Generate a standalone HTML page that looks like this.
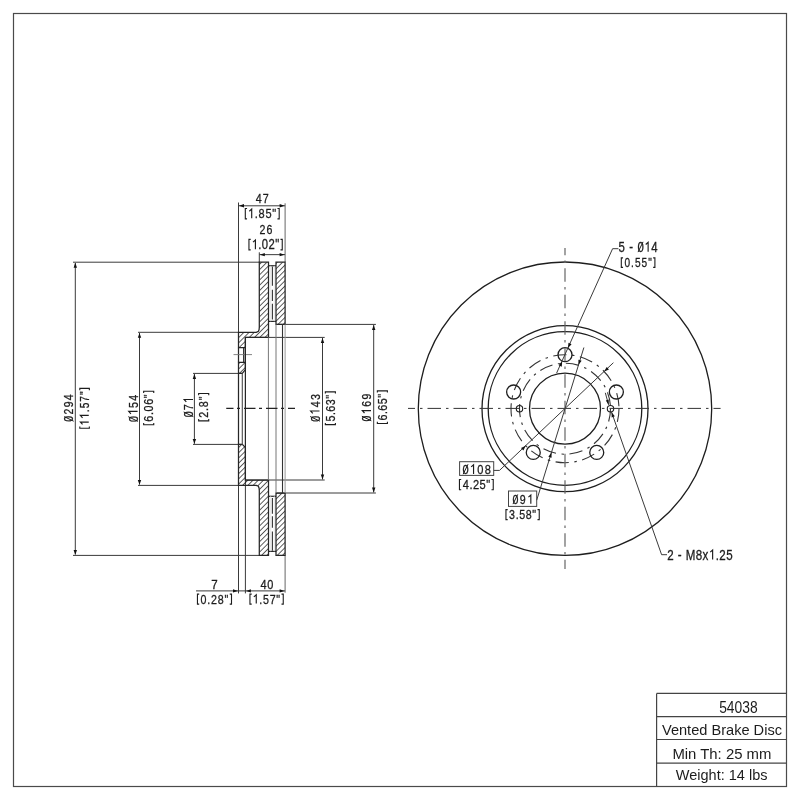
<!DOCTYPE html>
<html><head><meta charset="utf-8"><style>
html,body{margin:0;padding:0;background:#fff;}
svg{display:block;filter:grayscale(100%);}
text{opacity:0.999;}
text{font-family:"Liberation Sans",sans-serif;}
</style></head><body>
<svg width="800" height="800" viewBox="0 0 800 800">
<rect width="800" height="800" fill="#fff"/>
<rect x="13.5" y="13.5" width="773" height="773" fill="none" stroke="#4a4a4a" stroke-width="1.2"/>
<line x1="656.60" y1="693.40" x2="786.50" y2="693.40" stroke="#444" stroke-width="1.2" />
<line x1="656.60" y1="716.60" x2="786.50" y2="716.60" stroke="#444" stroke-width="1.2" />
<line x1="656.60" y1="739.50" x2="786.50" y2="739.50" stroke="#444" stroke-width="1.2" />
<line x1="656.60" y1="763.20" x2="786.50" y2="763.20" stroke="#444" stroke-width="1.2" />
<line x1="656.60" y1="693.40" x2="656.60" y2="786.50" stroke="#444" stroke-width="1.2" />
<g transform="translate(719.70,712.80)"><text x="-0.55" y="0" font-size="15.70" textLength="38.45" lengthAdjust="spacingAndGlyphs" fill="#1c1c1c">54038</text></g>
<g transform="translate(662.00,735.40)"><text x="-0.06" y="0" font-size="15.41" textLength="120.05" lengthAdjust="spacingAndGlyphs" fill="#1c1c1c">Vented Brake Disc</text></g>
<g transform="translate(673.60,758.80)"><text x="-1.22" y="0" font-size="15.55" textLength="99.00" lengthAdjust="spacingAndGlyphs" fill="#1c1c1c">Min Th: 25 mm</text></g>
<g transform="translate(675.90,780.40)"><text x="-0.06" y="0" font-size="15.26" textLength="91.59" lengthAdjust="spacingAndGlyphs" fill="#1c1c1c">Weight: 14 lbs</text></g>
<line x1="73.00" y1="262.20" x2="259.30" y2="262.20" stroke="#3a3a3a" stroke-width="1.0" />
<line x1="73.00" y1="555.40" x2="259.30" y2="555.40" stroke="#3a3a3a" stroke-width="1.0" />
<line x1="75.30" y1="263.00" x2="75.30" y2="554.60" stroke="#3a3a3a" stroke-width="1.0" />
<polygon points="75.30,262.80 77.00,267.70 73.60,267.70" fill="#111"/>
<polygon points="75.30,554.80 73.60,549.90 77.00,549.90" fill="#111"/>
<g transform="translate(73.30,421.40) rotate(-90)"><text transform="translate(-0.41,0) scale(0.820,1)" font-size="12.79" fill="#1c1c1c" stroke="#1c1c1c" stroke-width="0.3">0</text><line x1="0.20" y1="0.35" x2="4.81" y2="-9.15" stroke="#1c1c1c" stroke-width="1.0"/><text transform="translate(6.82,0) scale(0.820,1)" font-size="12.79" fill="#1c1c1c" stroke="#1c1c1c" stroke-width="0.3">2</text><text transform="translate(14.05,0) scale(0.820,1)" font-size="12.79" fill="#1c1c1c" stroke="#1c1c1c" stroke-width="0.3">9</text><text transform="translate(21.27,0) scale(0.820,1)" font-size="12.79" fill="#1c1c1c" stroke="#1c1c1c" stroke-width="0.3">4</text></g>
<g transform="translate(88.75,428.80) rotate(-90)"><path d="M2.30,-8.95H0.55V0.6H2.30M38.65,-8.95H40.40V0.6H38.65" fill="none" stroke="#1c1c1c" stroke-width="1.1"/><path d="M6.72,0V-8.35L4.32,-6.20" fill="none" stroke="#1c1c1c" stroke-width="1.15" stroke-linejoin="miter"/><path d="M13.35,0V-8.35L10.95,-6.20" fill="none" stroke="#1c1c1c" stroke-width="1.15" stroke-linejoin="miter"/><text transform="translate(16.62,0) scale(0.820,1)" font-size="12.35" fill="#1c1c1c" stroke="#1c1c1c" stroke-width="0.3">.</text><text transform="translate(20.43,0) scale(0.820,1)" font-size="12.35" fill="#1c1c1c" stroke="#1c1c1c" stroke-width="0.3">5</text><text transform="translate(27.05,0) scale(0.820,1)" font-size="12.35" fill="#1c1c1c" stroke="#1c1c1c" stroke-width="0.3">7</text><text transform="translate(33.68,0) scale(0.820,1)" font-size="12.35" fill="#1c1c1c" stroke="#1c1c1c" stroke-width="0.3">&quot;</text></g>
<line x1="138.00" y1="332.30" x2="238.50" y2="332.30" stroke="#3a3a3a" stroke-width="1.0" />
<line x1="138.00" y1="485.40" x2="238.50" y2="485.40" stroke="#3a3a3a" stroke-width="1.0" />
<line x1="139.50" y1="333.00" x2="139.50" y2="484.60" stroke="#3a3a3a" stroke-width="1.0" />
<polygon points="139.50,332.90 141.20,337.80 137.80,337.80" fill="#111"/>
<polygon points="139.50,484.80 137.80,479.90 141.20,479.90" fill="#111"/>
<g transform="translate(137.60,421.60) rotate(-90)"><text transform="translate(-0.42,0) scale(0.820,1)" font-size="13.08" fill="#1c1c1c" stroke="#1c1c1c" stroke-width="0.3">0</text><line x1="0.21" y1="0.35" x2="4.92" y2="-9.35" stroke="#1c1c1c" stroke-width="1.0"/><path d="M10.20,0V-8.85L7.80,-6.70" fill="none" stroke="#1c1c1c" stroke-width="1.15" stroke-linejoin="miter"/><text transform="translate(13.69,0) scale(0.820,1)" font-size="13.08" fill="#1c1c1c" stroke="#1c1c1c" stroke-width="0.3">5</text><text transform="translate(20.75,0) scale(0.820,1)" font-size="13.08" fill="#1c1c1c" stroke="#1c1c1c" stroke-width="0.3">4</text></g>
<g transform="translate(153.15,425.30) rotate(-90)"><path d="M2.30,-9.50H0.55V0.6H2.30M32.30,-9.50H34.05V0.6H32.30" fill="none" stroke="#1c1c1c" stroke-width="1.1"/><text transform="translate(3.55,0) scale(0.820,1)" font-size="13.15" fill="#1c1c1c" stroke="#1c1c1c" stroke-width="0.3">6</text><text transform="translate(10.20,0) scale(0.820,1)" font-size="13.15" fill="#1c1c1c" stroke="#1c1c1c" stroke-width="0.3">.</text><text transform="translate(13.84,0) scale(0.820,1)" font-size="13.15" fill="#1c1c1c" stroke="#1c1c1c" stroke-width="0.3">0</text><text transform="translate(20.48,0) scale(0.820,1)" font-size="13.15" fill="#1c1c1c" stroke="#1c1c1c" stroke-width="0.3">6</text><text transform="translate(27.13,0) scale(0.820,1)" font-size="13.15" fill="#1c1c1c" stroke="#1c1c1c" stroke-width="0.3">&quot;</text></g>
<line x1="193.00" y1="373.40" x2="242.30" y2="373.40" stroke="#3a3a3a" stroke-width="1.0" />
<line x1="193.00" y1="444.40" x2="242.30" y2="444.40" stroke="#3a3a3a" stroke-width="1.0" />
<line x1="194.40" y1="374.00" x2="194.40" y2="443.80" stroke="#3a3a3a" stroke-width="1.0" />
<polygon points="194.40,374.00 196.10,378.90 192.70,378.90" fill="#111"/>
<polygon points="194.40,443.80 192.70,438.90 196.10,438.90" fill="#111"/>
<g transform="translate(193.00,416.90) rotate(-90)"><text transform="translate(-0.42,0) scale(0.820,1)" font-size="13.08" fill="#1c1c1c" stroke="#1c1c1c" stroke-width="0.3">0</text><line x1="0.21" y1="0.35" x2="4.92" y2="-9.35" stroke="#1c1c1c" stroke-width="1.0"/><text transform="translate(6.72,0) scale(0.820,1)" font-size="13.08" fill="#1c1c1c" stroke="#1c1c1c" stroke-width="0.3">7</text><path d="M17.42,0V-8.85L15.02,-6.70" fill="none" stroke="#1c1c1c" stroke-width="1.15" stroke-linejoin="miter"/></g>
<g transform="translate(208.15,421.40) rotate(-90)"><path d="M2.30,-9.50H0.55V0.6H2.30M26.20,-9.50H27.95V0.6H26.20" fill="none" stroke="#1c1c1c" stroke-width="1.1"/><text transform="translate(3.56,0) scale(0.820,1)" font-size="13.15" fill="#1c1c1c" stroke="#1c1c1c" stroke-width="0.3">2</text><text transform="translate(10.38,0) scale(0.820,1)" font-size="13.15" fill="#1c1c1c" stroke="#1c1c1c" stroke-width="0.3">.</text><text transform="translate(14.20,0) scale(0.820,1)" font-size="13.15" fill="#1c1c1c" stroke="#1c1c1c" stroke-width="0.3">8</text><text transform="translate(21.03,0) scale(0.820,1)" font-size="13.15" fill="#1c1c1c" stroke="#1c1c1c" stroke-width="0.3">&quot;</text></g>
<line x1="245.40" y1="337.40" x2="324.70" y2="337.40" stroke="#3a3a3a" stroke-width="1.0" />
<line x1="245.40" y1="480.00" x2="324.70" y2="480.00" stroke="#3a3a3a" stroke-width="1.0" />
<line x1="322.50" y1="338.00" x2="322.50" y2="479.40" stroke="#3a3a3a" stroke-width="1.0" />
<polygon points="322.50,338.00 324.20,342.90 320.80,342.90" fill="#111"/>
<polygon points="322.50,479.40 320.80,474.50 324.20,474.50" fill="#111"/>
<g transform="translate(319.50,421.40) rotate(-90)"><text transform="translate(-0.42,0) scale(0.820,1)" font-size="13.08" fill="#1c1c1c" stroke="#1c1c1c" stroke-width="0.3">0</text><line x1="0.21" y1="0.35" x2="4.92" y2="-9.35" stroke="#1c1c1c" stroke-width="1.0"/><path d="M10.38,0V-8.85L7.98,-6.70" fill="none" stroke="#1c1c1c" stroke-width="1.15" stroke-linejoin="miter"/><text transform="translate(14.06,0) scale(0.820,1)" font-size="13.08" fill="#1c1c1c" stroke="#1c1c1c" stroke-width="0.3">4</text><text transform="translate(21.31,0) scale(0.820,1)" font-size="13.08" fill="#1c1c1c" stroke="#1c1c1c" stroke-width="0.3">3</text></g>
<g transform="translate(334.80,425.20) rotate(-90)"><path d="M2.30,-9.45H0.55V0.6H2.30M31.60,-9.45H33.35V0.6H31.60" fill="none" stroke="#1c1c1c" stroke-width="1.1"/><text transform="translate(3.67,0) scale(0.820,1)" font-size="13.08" fill="#1c1c1c" stroke="#1c1c1c" stroke-width="0.3">5</text><text transform="translate(10.11,0) scale(0.820,1)" font-size="13.08" fill="#1c1c1c" stroke="#1c1c1c" stroke-width="0.3">.</text><text transform="translate(13.57,0) scale(0.820,1)" font-size="13.08" fill="#1c1c1c" stroke="#1c1c1c" stroke-width="0.3">6</text><text transform="translate(20.01,0) scale(0.820,1)" font-size="13.08" fill="#1c1c1c" stroke="#1c1c1c" stroke-width="0.3">3</text><text transform="translate(26.45,0) scale(0.820,1)" font-size="13.08" fill="#1c1c1c" stroke="#1c1c1c" stroke-width="0.3">&quot;</text></g>
<line x1="276.00" y1="324.40" x2="375.90" y2="324.40" stroke="#3a3a3a" stroke-width="1.0" />
<line x1="276.00" y1="493.00" x2="375.90" y2="493.00" stroke="#3a3a3a" stroke-width="1.0" />
<line x1="373.70" y1="325.00" x2="373.70" y2="492.40" stroke="#3a3a3a" stroke-width="1.0" />
<polygon points="373.70,325.00 375.40,329.90 372.00,329.90" fill="#111"/>
<polygon points="373.70,492.40 372.00,487.50 375.40,487.50" fill="#111"/>
<g transform="translate(371.00,421.00) rotate(-90)"><text transform="translate(-0.41,0) scale(0.820,1)" font-size="12.79" fill="#1c1c1c" stroke="#1c1c1c" stroke-width="0.3">0</text><line x1="0.20" y1="0.35" x2="4.81" y2="-9.15" stroke="#1c1c1c" stroke-width="1.0"/><path d="M10.40,0V-8.65L8.00,-6.50" fill="none" stroke="#1c1c1c" stroke-width="1.15" stroke-linejoin="miter"/><text transform="translate(14.24,0) scale(0.820,1)" font-size="12.79" fill="#1c1c1c" stroke="#1c1c1c" stroke-width="0.3">6</text><text transform="translate(21.56,0) scale(0.820,1)" font-size="12.79" fill="#1c1c1c" stroke="#1c1c1c" stroke-width="0.3">9</text></g>
<g transform="translate(386.80,424.10) rotate(-90)"><path d="M2.30,-9.45H0.55V0.6H2.30M31.50,-9.45H33.25V0.6H31.50" fill="none" stroke="#1c1c1c" stroke-width="1.1"/><text transform="translate(3.56,0) scale(0.820,1)" font-size="13.08" fill="#1c1c1c" stroke="#1c1c1c" stroke-width="0.3">6</text><text transform="translate(10.00,0) scale(0.820,1)" font-size="13.08" fill="#1c1c1c" stroke="#1c1c1c" stroke-width="0.3">.</text><text transform="translate(13.46,0) scale(0.820,1)" font-size="13.08" fill="#1c1c1c" stroke="#1c1c1c" stroke-width="0.3">6</text><text transform="translate(19.90,0) scale(0.820,1)" font-size="13.08" fill="#1c1c1c" stroke="#1c1c1c" stroke-width="0.3">5</text><text transform="translate(26.35,0) scale(0.820,1)" font-size="13.08" fill="#1c1c1c" stroke="#1c1c1c" stroke-width="0.3">&quot;</text></g>
<line x1="238.50" y1="202.50" x2="238.50" y2="332.30" stroke="#3a3a3a" stroke-width="1.0" />
<line x1="285.10" y1="203.30" x2="285.10" y2="262.20" stroke="#666" stroke-width="1.0" />
<line x1="238.50" y1="205.80" x2="285.10" y2="205.80" stroke="#3a3a3a" stroke-width="1.0" />
<polygon points="239.10,205.80 244.00,204.10 244.00,207.50" fill="#111"/>
<polygon points="284.50,205.80 279.60,207.50 279.60,204.10" fill="#111"/>
<g transform="translate(256.00,203.30)"><text transform="translate(-0.25,0) scale(0.820,1)" font-size="13.08" fill="#1c1c1c" stroke="#1c1c1c" stroke-width="0.3">4</text><text transform="translate(6.77,0) scale(0.820,1)" font-size="13.08" fill="#1c1c1c" stroke="#1c1c1c" stroke-width="0.3">7</text></g>
<g transform="translate(244.75,218.25)"><path d="M2.30,-9.70H0.55V0.6H2.30M32.70,-9.70H34.45V0.6H32.70" fill="none" stroke="#1c1c1c" stroke-width="1.1"/><path d="M6.95,0V-9.10L4.55,-6.95" fill="none" stroke="#1c1c1c" stroke-width="1.15" stroke-linejoin="miter"/><text transform="translate(10.10,0) scale(0.820,1)" font-size="13.44" fill="#1c1c1c" stroke="#1c1c1c" stroke-width="0.3">.</text><text transform="translate(13.84,0) scale(0.820,1)" font-size="13.44" fill="#1c1c1c" stroke="#1c1c1c" stroke-width="0.3">8</text><text transform="translate(20.65,0) scale(0.820,1)" font-size="13.44" fill="#1c1c1c" stroke="#1c1c1c" stroke-width="0.3">5</text><text transform="translate(27.45,0) scale(0.820,1)" font-size="13.44" fill="#1c1c1c" stroke="#1c1c1c" stroke-width="0.3">&quot;</text></g>
<line x1="259.30" y1="252.30" x2="259.30" y2="262.20" stroke="#3a3a3a" stroke-width="1.0" />
<line x1="259.30" y1="254.65" x2="285.10" y2="254.65" stroke="#3a3a3a" stroke-width="1.0" />
<polygon points="259.90,254.65 264.80,252.95 264.80,256.35" fill="#111"/>
<polygon points="284.50,254.65 279.60,256.35 279.60,252.95" fill="#111"/>
<g transform="translate(260.00,233.80)"><text transform="translate(-0.53,0) scale(0.820,1)" font-size="12.94" fill="#1c1c1c" stroke="#1c1c1c" stroke-width="0.3">2</text><text transform="translate(6.57,0) scale(0.820,1)" font-size="12.94" fill="#1c1c1c" stroke="#1c1c1c" stroke-width="0.3">6</text></g>
<g transform="translate(248.40,249.30)"><path d="M2.30,-9.90H0.55V0.6H2.30M32.10,-9.90H33.85V0.6H32.10" fill="none" stroke="#1c1c1c" stroke-width="1.1"/><path d="M7.01,0V-9.30L4.61,-7.15" fill="none" stroke="#1c1c1c" stroke-width="1.15" stroke-linejoin="miter"/><text transform="translate(9.94,0) scale(0.820,1)" font-size="13.74" fill="#1c1c1c" stroke="#1c1c1c" stroke-width="0.3">.</text><text transform="translate(13.46,0) scale(0.820,1)" font-size="13.74" fill="#1c1c1c" stroke="#1c1c1c" stroke-width="0.3">0</text><text transform="translate(20.12,0) scale(0.820,1)" font-size="13.74" fill="#1c1c1c" stroke="#1c1c1c" stroke-width="0.3">2</text><text transform="translate(26.78,0) scale(0.820,1)" font-size="13.74" fill="#1c1c1c" stroke="#1c1c1c" stroke-width="0.3">&quot;</text></g>
<line x1="238.50" y1="485.40" x2="238.50" y2="593.40" stroke="#3a3a3a" stroke-width="1.0" />
<line x1="245.40" y1="480.00" x2="245.40" y2="593.40" stroke="#3a3a3a" stroke-width="1.0" />
<line x1="285.10" y1="555.40" x2="285.10" y2="592.70" stroke="#666" stroke-width="1.0" />
<line x1="196.00" y1="590.90" x2="285.10" y2="590.90" stroke="#3a3a3a" stroke-width="1.0" />
<polygon points="237.90,590.90 233.00,592.60 233.00,589.20" fill="#111"/>
<polygon points="246.00,590.90 250.90,589.20 250.90,592.60" fill="#111"/>
<polygon points="284.50,590.90 279.60,592.60 279.60,589.20" fill="#111"/>
<g transform="translate(211.85,588.60)"><text transform="translate(-0.59,0) scale(0.864,1)" font-size="13.37" fill="#1c1c1c" stroke="#1c1c1c" stroke-width="0.3">7</text></g>
<g transform="translate(196.90,603.55)"><path d="M2.30,-9.40H0.55V0.6H2.30M32.85,-9.40H34.60V0.6H32.85" fill="none" stroke="#1c1c1c" stroke-width="1.1"/><text transform="translate(3.68,0) scale(0.820,1)" font-size="13.01" fill="#1c1c1c" stroke="#1c1c1c" stroke-width="0.3">0</text><text transform="translate(10.43,0) scale(0.820,1)" font-size="13.01" fill="#1c1c1c" stroke="#1c1c1c" stroke-width="0.3">.</text><text transform="translate(14.22,0) scale(0.820,1)" font-size="13.01" fill="#1c1c1c" stroke="#1c1c1c" stroke-width="0.3">2</text><text transform="translate(20.97,0) scale(0.820,1)" font-size="13.01" fill="#1c1c1c" stroke="#1c1c1c" stroke-width="0.3">8</text><text transform="translate(27.72,0) scale(0.820,1)" font-size="13.01" fill="#1c1c1c" stroke="#1c1c1c" stroke-width="0.3">&quot;</text></g>
<g transform="translate(260.70,588.60)"><text transform="translate(-0.25,0) scale(0.820,1)" font-size="13.37" fill="#1c1c1c" stroke="#1c1c1c" stroke-width="0.3">4</text><text transform="translate(6.43,0) scale(0.820,1)" font-size="13.37" fill="#1c1c1c" stroke="#1c1c1c" stroke-width="0.3">0</text></g>
<g transform="translate(249.40,603.55)"><path d="M2.30,-9.40H0.55V0.6H2.30M32.10,-9.40H33.85V0.6H32.10" fill="none" stroke="#1c1c1c" stroke-width="1.1"/><path d="M6.86,0V-8.80L4.46,-6.65" fill="none" stroke="#1c1c1c" stroke-width="1.15" stroke-linejoin="miter"/><text transform="translate(9.97,0) scale(0.820,1)" font-size="13.01" fill="#1c1c1c" stroke="#1c1c1c" stroke-width="0.3">.</text><text transform="translate(13.66,0) scale(0.820,1)" font-size="13.01" fill="#1c1c1c" stroke="#1c1c1c" stroke-width="0.3">5</text><text transform="translate(20.31,0) scale(0.820,1)" font-size="13.01" fill="#1c1c1c" stroke="#1c1c1c" stroke-width="0.3">7</text><text transform="translate(26.97,0) scale(0.820,1)" font-size="13.01" fill="#1c1c1c" stroke="#1c1c1c" stroke-width="0.3">&quot;</text></g>
<defs><pattern id="h" patternUnits="userSpaceOnUse" width="3.7" height="3.7" patternTransform="rotate(45)">
<line x1="0" y1="0" x2="0" y2="3.7" stroke="#111" stroke-width="1.35"/></pattern></defs>
<polygon points="259.30,262.20 268.50,262.20 268.50,337.40 245.40,337.40 245.40,347.70 238.50,347.70 238.50,332.30 256.30,332.30 258.40,331.40 259.10,329.50 259.30,327.00" fill="url(#h)" stroke="#262626" stroke-width="1.25" />
<polygon points="276.00,262.20 285.10,262.20 285.10,324.40 276.00,324.40" fill="url(#h)" stroke="#262626" stroke-width="1.25" />
<polygon points="238.50,362.30 245.40,362.30 245.40,369.60 242.30,373.40 238.50,373.40" fill="url(#h)" stroke="#262626" stroke-width="1.25" />
<polygon points="259.30,555.40 268.50,555.40 268.50,480.00 245.40,480.00 245.40,447.50 242.30,444.40 238.50,444.40 238.50,485.40 256.30,485.40 258.40,486.30 259.10,488.20 259.30,490.70" fill="url(#h)" stroke="#262626" stroke-width="1.25" />
<polygon points="276.00,555.40 285.10,555.40 285.10,493.00 276.00,493.00" fill="url(#h)" stroke="#262626" stroke-width="1.25" />
<line x1="238.50" y1="347.70" x2="238.50" y2="362.30" stroke="#262626" stroke-width="1.25" />
<line x1="245.40" y1="347.70" x2="245.40" y2="362.30" stroke="#666" stroke-width="1.0" />
<line x1="243.70" y1="347.70" x2="243.70" y2="362.30" stroke="#222" stroke-width="1.2" />
<line x1="233.50" y1="354.60" x2="252.00" y2="354.60" stroke="#777" stroke-width="0.9" />
<line x1="268.50" y1="265.75" x2="276.00" y2="265.75" stroke="#262626" stroke-width="1.25" />
<line x1="268.50" y1="321.40" x2="276.00" y2="321.40" stroke="#262626" stroke-width="1.25" />
<line x1="268.50" y1="551.40" x2="276.00" y2="551.40" stroke="#262626" stroke-width="1.25" />
<line x1="268.50" y1="496.30" x2="276.00" y2="496.30" stroke="#262626" stroke-width="1.25" />
<line x1="270.70" y1="265.75" x2="270.70" y2="321.40" stroke="#dcdcdc" stroke-width="0.7" />
<line x1="274.30" y1="265.75" x2="274.30" y2="321.40" stroke="#dcdcdc" stroke-width="0.7" />
<line x1="270.70" y1="496.00" x2="270.70" y2="551.40" stroke="#dcdcdc" stroke-width="0.7" />
<line x1="274.30" y1="496.00" x2="274.30" y2="551.40" stroke="#dcdcdc" stroke-width="0.7" />
<line x1="272.40" y1="266.60" x2="272.40" y2="285.80" stroke="#333" stroke-width="1.1" />
<line x1="272.40" y1="531.60" x2="272.40" y2="550.80" stroke="#333" stroke-width="1.1" />
<line x1="272.40" y1="289.70" x2="272.40" y2="301.10" stroke="#333" stroke-width="1.1" />
<line x1="272.40" y1="516.30" x2="272.40" y2="527.70" stroke="#333" stroke-width="1.1" />
<line x1="272.40" y1="303.70" x2="272.40" y2="319.50" stroke="#333" stroke-width="1.1" />
<line x1="272.40" y1="497.90" x2="272.40" y2="513.70" stroke="#333" stroke-width="1.1" />
<line x1="238.50" y1="373.40" x2="238.50" y2="444.40" stroke="#262626" stroke-width="1.25" />
<line x1="242.30" y1="373.40" x2="242.30" y2="444.40" stroke="#4a4a4a" stroke-width="1.1" />
<line x1="245.40" y1="337.40" x2="245.40" y2="480.00" stroke="#262626" stroke-width="1.25" />
<line x1="268.40" y1="337.40" x2="268.40" y2="480.00" stroke="#777" stroke-width="1.0" />
<line x1="276.00" y1="324.40" x2="276.00" y2="493.00" stroke="#777" stroke-width="1.0" />
<line x1="282.50" y1="324.40" x2="282.50" y2="493.00" stroke="#333" stroke-width="1.1" />
<line x1="285.10" y1="324.40" x2="285.10" y2="493.00" stroke="#999" stroke-width="1.0" />
<line x1="226.25" y1="408.40" x2="295.00" y2="408.40" stroke="#222" stroke-width="1.1" stroke-dasharray="11.5 3.5 3 4" stroke-dashoffset="4.25"/>
<circle cx="565.00" cy="408.70" r="146.70" fill="none" stroke="#1e1e1e" stroke-width="1.3" />
<circle cx="565.00" cy="408.70" r="83.00" fill="none" stroke="#1e1e1e" stroke-width="1.3" />
<circle cx="565.00" cy="408.50" r="76.80" fill="none" stroke="#1e1e1e" stroke-width="1.3" />
<circle cx="565.00" cy="408.70" r="35.50" fill="none" stroke="#1e1e1e" stroke-width="1.3" />
<circle cx="565.00" cy="408.70" r="54.00" fill="none" stroke="#333" stroke-width="1.1" stroke-dasharray="13.3 5.55 2.5 5.55" stroke-dashoffset="-0.14"/>
<circle cx="565.00" cy="408.70" r="45.50" fill="none" stroke="#333" stroke-width="1.1" stroke-dasharray="13.3 5.55 2.5 5.55" stroke-dashoffset="0.27"/>
<circle cx="565.00" cy="354.70" r="7.00" fill="none" stroke="#1e1e1e" stroke-width="1.3" />
<circle cx="616.36" cy="392.01" r="7.00" fill="none" stroke="#1e1e1e" stroke-width="1.3" />
<circle cx="596.74" cy="452.39" r="7.00" fill="none" stroke="#1e1e1e" stroke-width="1.3" />
<circle cx="533.26" cy="452.39" r="7.00" fill="none" stroke="#1e1e1e" stroke-width="1.3" />
<circle cx="513.64" cy="392.01" r="7.00" fill="none" stroke="#1e1e1e" stroke-width="1.3" />
<circle cx="519.50" cy="408.70" r="3.20" fill="none" stroke="#1e1e1e" stroke-width="1.1" />
<circle cx="610.50" cy="408.70" r="3.20" fill="none" stroke="#1e1e1e" stroke-width="1.1" />
<line x1="408.00" y1="408.40" x2="720.60" y2="408.40" stroke="#333" stroke-width="1.0" stroke-dasharray="13.5 5 2.5 5" stroke-dashoffset="6.5"/>
<line x1="565.00" y1="248.00" x2="565.00" y2="569.00" stroke="#666" stroke-width="1.2" stroke-dasharray="13.5 5.25 2.5 5.25" stroke-dashoffset="6.3"/>
<line x1="612.60" y1="248.70" x2="618.40" y2="248.70" stroke="#3a3a3a" stroke-width="1.0" />
<line x1="612.60" y1="248.70" x2="556.60" y2="373.10" stroke="#3a3a3a" stroke-width="1.0" />
<polygon points="568.00,348.00 568.46,342.83 571.56,344.23" fill="#111"/>
<polygon points="562.20,361.60 561.74,366.77 558.64,365.37" fill="#111"/>
<g transform="translate(618.90,251.75)"><text transform="translate(-0.46,0) scale(0.820,1)" font-size="13.88" fill="#1c1c1c" stroke="#1c1c1c" stroke-width="0.3">5</text><text transform="translate(10.29,0) scale(0.820,1)" font-size="13.88" fill="#1c1c1c" stroke="#1c1c1c" stroke-width="0.3">-</text><text transform="translate(18.49,0) scale(0.820,1)" font-size="13.88" fill="#1c1c1c" stroke="#1c1c1c" stroke-width="0.3">0</text><line x1="19.15" y1="0.35" x2="24.16" y2="-9.90" stroke="#1c1c1c" stroke-width="1.0"/><path d="M29.23,0V-9.40L26.83,-7.25" fill="none" stroke="#1c1c1c" stroke-width="1.15" stroke-linejoin="miter"/><text transform="translate(32.40,0) scale(0.820,1)" font-size="13.88" fill="#1c1c1c" stroke="#1c1c1c" stroke-width="0.3">4</text></g>
<g transform="translate(620.75,266.75)"><path d="M2.30,-8.90H0.55V0.6H2.30M32.40,-8.90H34.15V0.6H32.40" fill="none" stroke="#1c1c1c" stroke-width="1.1"/><text transform="translate(3.71,0) scale(0.820,1)" font-size="12.28" fill="#1c1c1c" stroke="#1c1c1c" stroke-width="0.3">0</text><text transform="translate(10.34,0) scale(0.820,1)" font-size="12.28" fill="#1c1c1c" stroke="#1c1c1c" stroke-width="0.3">.</text><text transform="translate(14.18,0) scale(0.820,1)" font-size="12.28" fill="#1c1c1c" stroke="#1c1c1c" stroke-width="0.3">5</text><text transform="translate(20.82,0) scale(0.820,1)" font-size="12.28" fill="#1c1c1c" stroke="#1c1c1c" stroke-width="0.3">5</text><text transform="translate(27.45,0) scale(0.820,1)" font-size="12.28" fill="#1c1c1c" stroke="#1c1c1c" stroke-width="0.3">&quot;</text></g>
<line x1="493.70" y1="470.40" x2="499.50" y2="470.40" stroke="#3a3a3a" stroke-width="1.0" />
<line x1="499.50" y1="470.40" x2="613.40" y2="362.70" stroke="#3a3a3a" stroke-width="1.0" />
<polygon points="525.76,445.80 523.37,450.40 521.03,447.93" fill="#111"/>
<polygon points="604.24,371.60 606.63,367.00 608.97,369.47" fill="#111"/>
<rect x="459.6" y="461.7" width="34.1" height="13.7" fill="none" stroke="#444" stroke-width="1.0"/>
<g transform="translate(462.90,473.90)"><text transform="translate(-0.43,0) scale(0.820,1)" font-size="13.52" fill="#1c1c1c" stroke="#1c1c1c" stroke-width="0.3">0</text><line x1="0.21" y1="0.35" x2="5.09" y2="-9.65" stroke="#1c1c1c" stroke-width="1.0"/><path d="M10.66,0V-9.15L8.26,-7.00" fill="none" stroke="#1c1c1c" stroke-width="1.15" stroke-linejoin="miter"/><text transform="translate(14.40,0) scale(0.820,1)" font-size="13.52" fill="#1c1c1c" stroke="#1c1c1c" stroke-width="0.3">0</text><text transform="translate(21.82,0) scale(0.820,1)" font-size="13.52" fill="#1c1c1c" stroke="#1c1c1c" stroke-width="0.3">8</text></g>
<g transform="translate(458.90,489.20)"><path d="M2.30,-9.75H0.55V0.6H2.30M32.60,-9.75H34.35V0.6H32.60" fill="none" stroke="#1c1c1c" stroke-width="1.1"/><text transform="translate(3.85,0) scale(0.820,1)" font-size="13.52" fill="#1c1c1c" stroke="#1c1c1c" stroke-width="0.3">4</text><text transform="translate(10.49,0) scale(0.820,1)" font-size="13.52" fill="#1c1c1c" stroke="#1c1c1c" stroke-width="0.3">.</text><text transform="translate(14.05,0) scale(0.820,1)" font-size="13.52" fill="#1c1c1c" stroke="#1c1c1c" stroke-width="0.3">2</text><text transform="translate(20.69,0) scale(0.820,1)" font-size="13.52" fill="#1c1c1c" stroke="#1c1c1c" stroke-width="0.3">5</text><text transform="translate(27.34,0) scale(0.820,1)" font-size="13.52" fill="#1c1c1c" stroke="#1c1c1c" stroke-width="0.3">&quot;</text></g>
<line x1="536.70" y1="500.20" x2="583.90" y2="347.50" stroke="#3a3a3a" stroke-width="1.0" />
<polygon points="551.44,452.55 551.62,457.74 548.37,456.73" fill="#111"/>
<polygon points="578.56,364.85 578.38,359.66 581.63,360.67" fill="#111"/>
<rect x="508.5" y="491.0" width="28.2" height="15.4" fill="none" stroke="#444" stroke-width="1.0"/>
<g transform="translate(512.80,503.75)"><text transform="translate(-0.42,0) scale(0.820,1)" font-size="13.01" fill="#1c1c1c" stroke="#1c1c1c" stroke-width="0.3">0</text><line x1="0.20" y1="0.35" x2="4.90" y2="-9.30" stroke="#1c1c1c" stroke-width="1.0"/><text transform="translate(7.03,0) scale(0.820,1)" font-size="13.01" fill="#1c1c1c" stroke="#1c1c1c" stroke-width="0.3">9</text><path d="M18.03,0V-8.80L15.63,-6.65" fill="none" stroke="#1c1c1c" stroke-width="1.15" stroke-linejoin="miter"/></g>
<g transform="translate(505.40,519.00)"><path d="M2.30,-9.40H0.55V0.6H2.30M32.10,-9.40H33.85V0.6H32.10" fill="none" stroke="#1c1c1c" stroke-width="1.1"/><text transform="translate(3.69,0) scale(0.820,1)" font-size="13.01" fill="#1c1c1c" stroke="#1c1c1c" stroke-width="0.3">3</text><text transform="translate(10.25,0) scale(0.820,1)" font-size="13.01" fill="#1c1c1c" stroke="#1c1c1c" stroke-width="0.3">.</text><text transform="translate(13.85,0) scale(0.820,1)" font-size="13.01" fill="#1c1c1c" stroke="#1c1c1c" stroke-width="0.3">5</text><text transform="translate(20.41,0) scale(0.820,1)" font-size="13.01" fill="#1c1c1c" stroke="#1c1c1c" stroke-width="0.3">8</text><text transform="translate(26.97,0) scale(0.820,1)" font-size="13.01" fill="#1c1c1c" stroke="#1c1c1c" stroke-width="0.3">&quot;</text></g>
<line x1="661.60" y1="554.70" x2="667.00" y2="554.70" stroke="#3a3a3a" stroke-width="1.0" />
<line x1="661.60" y1="554.70" x2="611.50" y2="412.00" stroke="#3a3a3a" stroke-width="1.0" />
<polygon points="611.60,412.20 614.83,416.26 611.62,417.39" fill="#111"/>
<line x1="605.30" y1="392.80" x2="608.60" y2="404.80" stroke="#3a3a3a" stroke-width="1.0" />
<polygon points="608.60,404.80 605.83,400.38 608.72,399.58" fill="#111"/>
<g transform="translate(667.80,559.50)"><text transform="translate(-0.58,0) scale(0.820,1)" font-size="14.10" fill="#1c1c1c" stroke="#1c1c1c" stroke-width="0.3">2</text><text transform="translate(9.92,0) scale(0.820,1)" font-size="14.10" fill="#1c1c1c" stroke="#1c1c1c" stroke-width="0.3">-</text><text transform="translate(17.85,0) scale(0.820,1)" font-size="14.10" fill="#1c1c1c" stroke="#1c1c1c" stroke-width="0.3">M</text><text transform="translate(27.91,0) scale(0.820,1)" font-size="14.10" fill="#1c1c1c" stroke="#1c1c1c" stroke-width="0.3">8</text><text transform="translate(34.78,0) scale(0.820,1)" font-size="14.10" fill="#1c1c1c" stroke="#1c1c1c" stroke-width="0.3">x</text><path d="M44.83,0V-9.55L42.43,-7.40" fill="none" stroke="#1c1c1c" stroke-width="1.15" stroke-linejoin="miter"/><text transform="translate(47.85,0) scale(0.820,1)" font-size="14.10" fill="#1c1c1c" stroke="#1c1c1c" stroke-width="0.3">.</text><text transform="translate(51.49,0) scale(0.820,1)" font-size="14.10" fill="#1c1c1c" stroke="#1c1c1c" stroke-width="0.3">2</text><text transform="translate(58.36,0) scale(0.820,1)" font-size="14.10" fill="#1c1c1c" stroke="#1c1c1c" stroke-width="0.3">5</text></g>
</svg></body></html>
